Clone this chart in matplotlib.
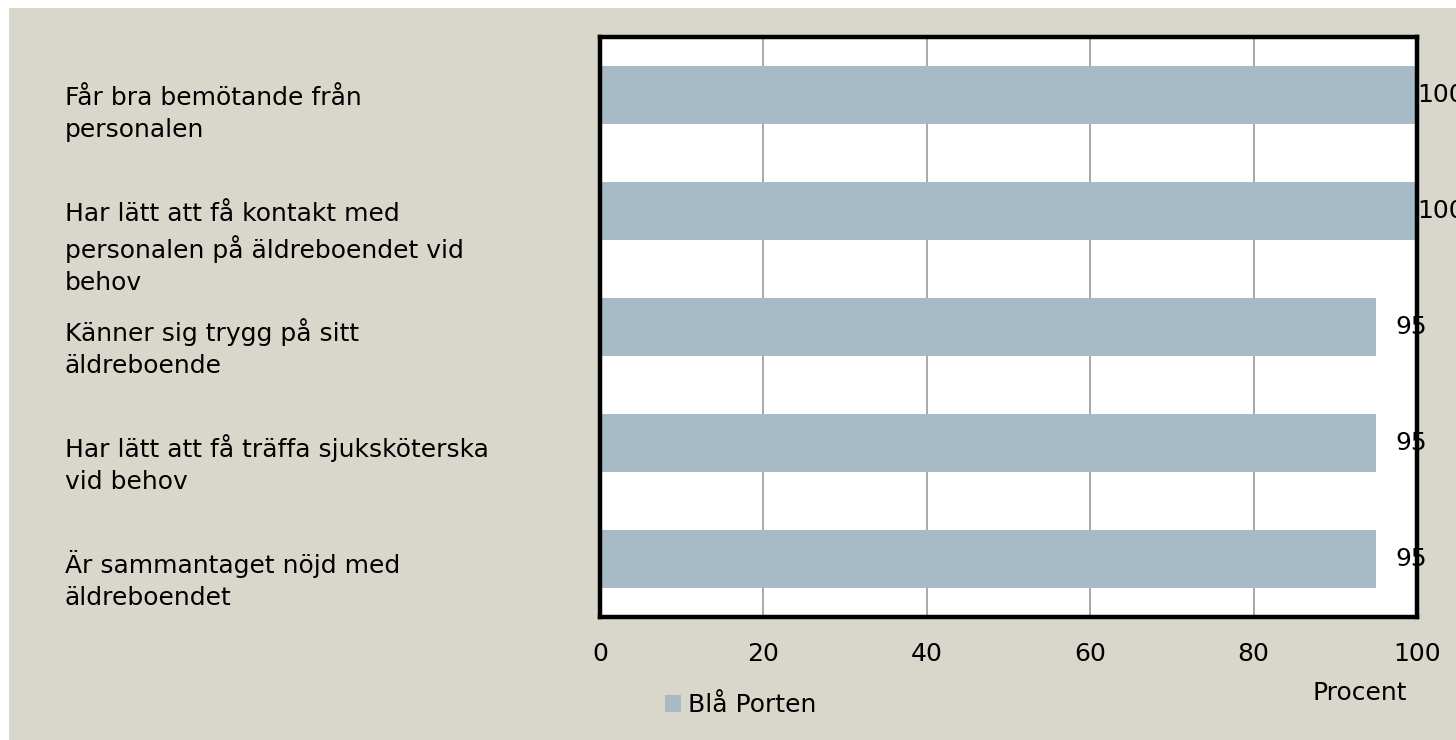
import matplotlib
matplotlib.use("Agg")
import matplotlib.pyplot as plt
from matplotlib.patches import Rectangle, Patch

categories = [
    "Får bra bemötande från\npersonalen",
    "Har lätt att få kontakt med\npersonalen på äldreboendet vid\nbehov",
    "Känner sig trygg på sitt\näldreboende",
    "Har lätt att få träffa sjuksköterska\nvid behov",
    "Är sammantaget nöjd med\näldreboendet",
]
values = [100, 100, 95, 95, 95]
xticks = [0, 20, 40, 60, 80, 100]
series_name = "Blå Porten"
xlabel = "Procent"

bg = "#D9D7CC"
bar_color = "#A7BBC7"
fs = 18

plt.rcParams["font.family"] = ["DejaVu Sans"]

fig = plt.figure(figsize=(14.56, 7.40), dpi=100, facecolor="white")
fig.patches.append(Rectangle((9 / 1456, 0), 1, (740 - 8) / 740,
                             transform=fig.transFigure, facecolor=bg,
                             edgecolor="none", zorder=-10))

ax = fig.add_axes([600 / 1456, 123 / 740, 817 / 1456, 580 / 740])
ax.set_facecolor("white")

ypos = list(range(len(categories)))
ax.barh(ypos, values, height=0.5, color=bar_color, zorder=2)
ax.set_xlim(0, 100)
ax.set_ylim(len(categories) - 0.5, -0.5)

ax.set_xticks(xticks)
ax.set_xticklabels([str(t) for t in xticks], fontsize=fs)
ax.tick_params(axis="x", length=0, pad=18)
ax.set_yticks([])
ax.grid(axis="x", color="#9A9A9A", linewidth=1.2, zorder=1)

for s in ax.spines.values():
    s.set_linewidth(3.2)
    s.set_color("black")
    s.set_zorder(5)

# value labels (cut at the right edge like the original)
for y, v in zip(ypos, values):
    ax.text(min(v + 2.4, 100), y, str(v), ha="left", va="center",
            fontsize=fs, clip_on=False, zorder=6)

# category labels on the left
for y, lab in zip(ypos, categories):
    ax.annotate(lab, xy=(65 / 1456, y), xycoords=("figure fraction", "data"),
                xytext=(0, 9), textcoords="offset pixels",
                ha="left", va="top", fontsize=fs, linespacing=1.4,
                annotation_clip=False)

ax.set_xlabel(xlabel, fontsize=fs)
ax.xaxis.set_label_coords(0.93, -0.11)

leg = fig.legend(handles=[Patch(facecolor=bar_color, label=series_name)],
                 loc="center left", bbox_to_anchor=(642 / 1456, 1 - 705 / 740),
                 frameon=False, fontsize=fs, handlelength=0.65,
                 handleheight=0.65, handletextpad=0.3)

fig.savefig("out.png", dpi=100, facecolor=fig.get_facecolor())
